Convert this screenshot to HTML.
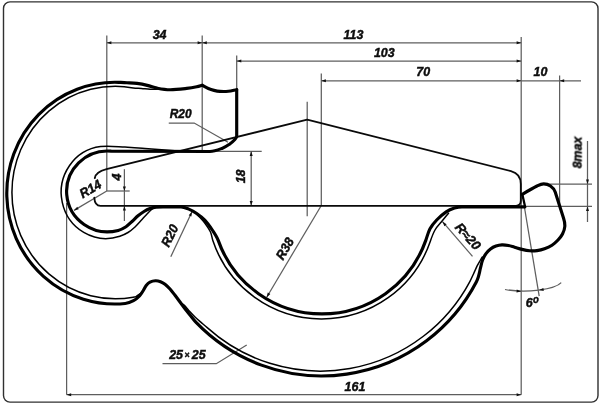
<!DOCTYPE html>
<html>
<head>
<meta charset="utf-8">
<title>Hook template drawing</title>
<style>
html,body{margin:0;padding:0;background:#fff;}
body{width:600px;height:405px;overflow:hidden;font-family:"Liberation Sans",sans-serif;}
svg{display:block;}
text{font-family:"Liberation Sans",sans-serif;font-weight:bold;font-style:italic;font-size:13px;fill:#0d0d0d;stroke:#0d0d0d;stroke-width:0.45px;}
.thin{stroke:#333;stroke-width:1;fill:none;}
.ext{stroke:#5e5e5e;stroke-width:1.25;fill:none;}
.med{stroke:#0a0a0a;stroke-width:1.85;fill:none;stroke-linecap:round;stroke-linejoin:round;}
.thick{stroke:#000;stroke-width:3.15;fill:none;stroke-linecap:round;stroke-linejoin:round;}
.fine{stroke:#000;stroke-width:1.5;fill:none;stroke-linecap:round;}
.arr{fill:#111;stroke:none;}
</style>
</head>
<body>
<svg width="600" height="405" viewBox="0 0 600 405">
<defs>
  <path id="ah" d="M0,0 L-4.6,-1.5 L-4.6,1.5 Z"/>
</defs>
<rect x="0" y="0" width="600" height="405" fill="#fff"/>
<!-- frame -->

<rect x="3.5" y="1.9" width="594.5" height="400.2" rx="6.5" ry="6.5" fill="#fff" stroke="#303030" stroke-width="1.4"/>

<!-- extension lines -->
<g class="ext">
  <path d="M106.8,35.5 V191"/>
  <path d="M202.2,35.5 V150"/>
  <path d="M236.7,55.5 V90"/>
  <path d="M321.3,73.5 V205.5"/>
  <path d="M307.2,101.7 V216.3"/>
  <path d="M521.2,37 V394.7"/>
  <path d="M559.6,75.5 V206.4"/>
  <path d="M66.6,203 V394.7"/>
  <!-- dimension lines -->
  <path d="M106.8,42.8 H521.2"/>
  <path d="M236.7,61 H521.2"/>
  <path d="M321.3,80.8 H581"/>
  <path d="M66.6,394.7 H521.2"/>
  <!-- 8max -->
  <path d="M548,184.1 H592"/>
  <path d="M525,206.4 H592"/>
  <path d="M587.5,141 V222"/>
  <!-- 18 -->
  <path d="M216,151.4 H261.7"/>
  <path d="M251.2,151.3 V205.5"/>
  <!-- 4 -->
  <path d="M106.8,191 H129.7"/>
  <path d="M124.4,169.2 V221"/>
  <!-- R14 -->
  <path d="M106.8,191 L74,210.4"/>
  <!-- R20 top leader -->
  <path d="M168.75,123 H194.2 L228,142.3"/>
  <!-- R20 left leader -->
  <path d="M192,211.7 L170.8,256.7"/>
  <!-- R38 leader -->
  <path d="M321.3,205.5 L266.7,297.2"/>
  <!-- R~20 leader -->
  <path d="M442.5,221.7 L472.5,256.3"/>
  <!-- 25x25 leader -->
  <path d="M162.5,363.7 H216.3 L246.7,345"/>
  <!-- 6 deg -->
  <path d="M524.4,207 L539.2,296.2"/>
  <path d="M505,289.5 Q521,292.4 538.8,290.1 T561.2,282.7"/>
</g>

<!-- arrows -->
<g class="arr">
  <use href="#ah" transform="translate(106.8,42.8) rotate(180)"/>
  <use href="#ah" transform="translate(202.2,42.8)"/>
  <use href="#ah" transform="translate(202.2,42.8) rotate(180)"/>
  <use href="#ah" transform="translate(521.2,42.8)"/>
  <use href="#ah" transform="translate(236.7,61) rotate(180)"/>
  <use href="#ah" transform="translate(521.2,61)"/>
  <use href="#ah" transform="translate(321.3,80.8) rotate(180)"/>
  <use href="#ah" transform="translate(521.2,80.8)"/>
  <use href="#ah" transform="translate(559.6,80.8) rotate(180)"/>
  <use href="#ah" transform="translate(66.6,394.7) rotate(180)"/>
  <use href="#ah" transform="translate(521.2,394.7)"/>
  <use href="#ah" transform="translate(587.5,184.1) rotate(90)"/>
  <use href="#ah" transform="translate(587.5,206.4) rotate(-90)"/>
  <use href="#ah" transform="translate(251.2,151.3) rotate(-90)"/>
  <use href="#ah" transform="translate(251.2,205.5) rotate(90)"/>
  <use href="#ah" transform="translate(124.4,191) rotate(90)"/>
  <use href="#ah" transform="translate(124.4,206) rotate(-90)"/>
  <use href="#ah" transform="translate(74,210.4) rotate(149.4)"/>
  <use href="#ah" transform="translate(192,211.7) rotate(-64.8)"/>
  <use href="#ah" transform="translate(266.7,297.2) rotate(120.8)"/>
  <use href="#ah" transform="translate(442.5,221.7) rotate(-131)"/>
  <use href="#ah" transform="translate(521.2,291.5) rotate(5)"/>
  <use href="#ah" transform="translate(539,290) rotate(173)"/>
</g>

<!-- template (medium line) -->
<path class="med" d="M94.8,178.2 C95.2,174.5 99,171 106.5,169.1 L307.2,119.7 L511,171.1 C517.5,172.8 520.8,177 520.8,184 V200.5 Q520.8,205.8 516,205.8 H100.5 Q94.8,205.8 94.3,197.7"/>
<!-- wedge at hook tip -->


<!-- hook thin (secondary) lines -->
<g class="fine">
  <path d="M159,89.1 C156,89.17 152.92,89.42 150,89.3 C147.08,89.18 144.29,88.63 141.5,88.4 C138.71,88.17 135.96,88.4 133.26,87.91 A103.4,106.25 0 1 0 133.26,297.19 C134.18,297.02 134.71,297.26 136,296.6 C137.29,295.94 139.33,294.33 141,293.2"/>
  <path d="M184,151.3 C177.67,150.9 171.5,150.55 165,150.1 C158.5,149.65 151.67,149.1 145,148.6 C138.33,148.1 132.41,147.44 125,147.1 C117.59,146.76 108.63,145.52 100.54,146.54 A44.8,46.15 0 1 0 119.84,236.24 C122.68,235.29 125.47,234.04 128,232.5 C130.53,230.96 132.67,229.17 135,227 C137.33,224.83 140,221.67 142,219.5 C144,217.33 145.5,215.58 147,214 C148.5,212.42 149.75,211.03 151,210 C152.25,208.97 153.33,208.53 154.5,207.8"/>
  <path d="M195.5,213 C197,214.5 198.33,215.67 200,217.5 C201.67,219.33 203.75,221.58 205.5,224 C207.25,226.42 209.28,229.25 210.5,232 C211.72,234.75 211.9,237.73 212.83,240.53 A114.8,114.8 0 0 0 430.25,241.48 C431.59,237.56 433.12,233.28 435,230 C436.88,226.72 439.25,224.6 441.5,221.8 C443.75,219 446.17,216.07 448.5,213.2"/>
  <path d="M482.2,257 C481.53,258.17 481.07,258.97 480.2,260.5 C479.33,262.03 478.08,264.03 477,266.2 C475.92,268.37 474.87,270.99 473.7,273.5 C472.53,276.01 471.33,278.74 469.98,281.28 A169.3,169.3 0 0 1 207.22,327.61 C205.03,325.65 202.54,323.67 200.5,321.9 C198.46,320.13 196.75,318.68 195,317 C193.25,315.32 191.58,313.53 190,311.8 C188.42,310.07 186.75,307.95 185.5,306.6 C184.25,305.25 183.5,304.67 182.5,303.7"/>
</g>

<!-- hook thick outline -->
<path class="thick" d="M236.7,89.7 V136.2 C236.7,137.59 235.8,138.47 234.6,139.8 C233.4,141.13 231.6,142.77 229.5,144.2 C227.4,145.63 225.25,147.19 222,148.4 C218.75,149.61 214.13,151.45 210,151.45 L111.17,151.15 A41,40.4 0 1 0 118.21,230.42 C120.99,229.69 123.7,228.19 126,226.7 C128.3,225.21 130,223.32 132,221.5 C134,219.68 136,217.47 138,215.8 C140,214.13 142,212.7 144,211.5 C146,210.3 148,209.33 150,208.6 C152,207.87 153.83,207.4 156,207.1 C158.17,206.8 160.66,206.8 163,206.8 H181 C183.53,206.8 185.68,207.78 188.3,208.9 C190.92,210.02 193.92,211.6 196.7,213.5 C199.48,215.4 202.4,217.55 205,220.3 C207.6,223.05 210.08,226.61 212.3,230 C214.52,233.39 216.95,236.78 218.31,240.62 A110,110 0 0 0 425.69,240.62 C427.09,236.67 428.17,232.24 430,228.8 C431.83,225.36 434,222.82 436.7,220 C439.4,217.18 443.23,213.88 446.2,211.9 C449.17,209.92 451.87,208.95 454.5,208.1 C457.13,207.25 459.46,206.8 462,206.8 H524.6 "/>
<path class="thick" d="M522.3,194.3 C527.13,191.41 533.43,187.75 537,186 C540.57,184.25 541.45,183.8 543.7,183.8 C545.95,183.8 548.58,184.63 550.5,186 C552.42,187.37 554.4,189.59 555.2,192 L563.5,218 C564.41,220.72 564.97,223.83 564.8,226.5 C564.63,229.17 563.63,231.75 562.5,234 C561.37,236.25 559.75,238.13 558,240 C556.25,241.87 554.25,243.73 552,245.2 C549.75,246.67 547,247.9 544.5,248.8 C542,249.7 539.5,250.27 537,250.6 C534.5,250.93 532,251 529.5,250.8 C527,250.6 524.5,250 522,249.4 C519.5,248.8 516.75,247.85 514.5,247.2 C512.25,246.55 510.58,245.88 508.5,245.5 C506.42,245.12 504.08,244.8 502,244.9 C499.92,245 497.92,245.42 496,246.1 C494.08,246.78 492.17,247.75 490.5,249 C488.83,250.25 487.32,251.77 486,253.6 C484.68,255.43 483.55,257.52 482.6,260 C481.65,262.48 481.07,265.67 480.3,268.5 C479.48,273.15 478.49,277.9 476.31,282.08 A174.3,174.3 0 0 1 196.32,322.68 C194.38,320.67 192.89,318.51 191,316.2 C189.11,313.89 186.83,311.17 185,308.8 C183.17,306.43 181.67,304.25 180,302 C178.33,299.75 176.67,297.47 175,295.3 C173.33,293.13 171.67,290.85 170,289 C168.33,287.15 166.58,285.42 165,284.2 C163.42,282.98 162.08,282.27 160.5,281.7 C158.92,281.13 157.25,280.72 155.5,280.8 C153.75,280.88 151.55,281.42 150,282.2 C148.45,282.98 147.32,284.12 146.2,285.5 C145.08,286.88 144.42,288.75 143.3,290.5 C142.18,292.25 141.13,294.3 139.5,296 C137.87,297.7 135.87,299.45 133.5,300.7 C131.13,301.95 128.15,303.2 125.26,303.49 A108.1,110.85 0 1 1 118.67,82.37 C121.45,82.47 123.95,82.53 127,82.7 C130.05,82.87 133.45,82.92 137,83.4 C140.55,83.88 144.97,84.82 148.3,85.6 C151.63,86.38 153.38,87.42 157,88.1 C160.62,88.78 165.05,89.65 170,89.7 C174.95,89.75 182.25,88.88 186.7,88.4 C191.15,87.92 194.12,87.33 196.7,86.8 C199.28,86.27 200.37,85.73 202.2,85.2 C204.23,86.3 206.33,87.63 208.3,88.5 C210.27,89.37 212.05,89.92 214,90.4 C215.95,90.88 217.62,91.25 220,91.4 C222.38,91.55 225.52,91.58 228.3,91.3 C231.08,91.02 233.9,90.23 236.7,89.7 L236.7,89.7"/>
<path d="M522.3,194.3 L525.2,207.2" stroke="#000" stroke-width="2.3" stroke-linecap="round" fill="none"/>

<!-- texts -->
<g class="txt" opacity="0.999">
<text transform="translate(159.6,38.9) scale(0.95,1)" text-anchor="middle" style="font-size:13.1px">34</text>
<text transform="translate(353.4,38.9) scale(0.95,1)" text-anchor="middle" style="font-size:13.1px">113</text>
<text transform="translate(384.3,56.9) scale(0.95,1)" text-anchor="middle" style="font-size:13.1px">103</text>
<text transform="translate(423.2,75.6) scale(0.95,1)" text-anchor="middle" style="font-size:13.1px">70</text>
<text transform="translate(540.4,75.6) scale(0.95,1)" text-anchor="middle" style="font-size:13.1px">10</text>
<text transform="translate(355,391.2) scale(0.95,1)" text-anchor="middle" style="font-size:13.1px">161</text>
<text transform="translate(169.2,358.7)" text-anchor="start" style="font-size:12.4px">25<tspan style="font-size:8.5px" dx="1.6" dy="-0.8">×</tspan><tspan dx="2.2" dy="0.8">25</tspan></text>
<text transform="translate(180.7,118.4) scale(0.95,1)" text-anchor="middle" style="font-size:12.6px">R20</text>
<text transform="translate(581.6,152.5) rotate(-90) scale(0.95,1)" text-anchor="middle" style="font-size:13.1px">8max</text>
<text transform="translate(245.1,176.4) rotate(-90) scale(0.95,1)" text-anchor="middle" style="font-size:13.1px">18</text>
<text transform="translate(120.6,177) rotate(-90) scale(0.95,1)" text-anchor="middle" style="font-size:13.1px">4</text>
<text transform="translate(92.6,192.7) rotate(-30) scale(0.95,1)" text-anchor="middle" style="font-size:13.1px">R14</text>
<text transform="translate(173.8,237.5) rotate(-64) scale(0.95,1)" text-anchor="middle" style="font-size:13.1px">R20</text>
<text transform="translate(288.8,250.8) rotate(-60) scale(0.95,1)" text-anchor="middle" style="font-size:13.1px">R38</text>
<text transform="translate(464.6,239.3) rotate(48) scale(1,1)" text-anchor="middle" style="font-size:13.1px">R≈20</text>
<text transform="translate(525.7,307) scale(0.95,1)" style="font-size:13.1px">6<tspan dy="-3.7" dx="0.3" style="font-size:10px">o</tspan></text>
</g>
</svg>
</body>
</html>
